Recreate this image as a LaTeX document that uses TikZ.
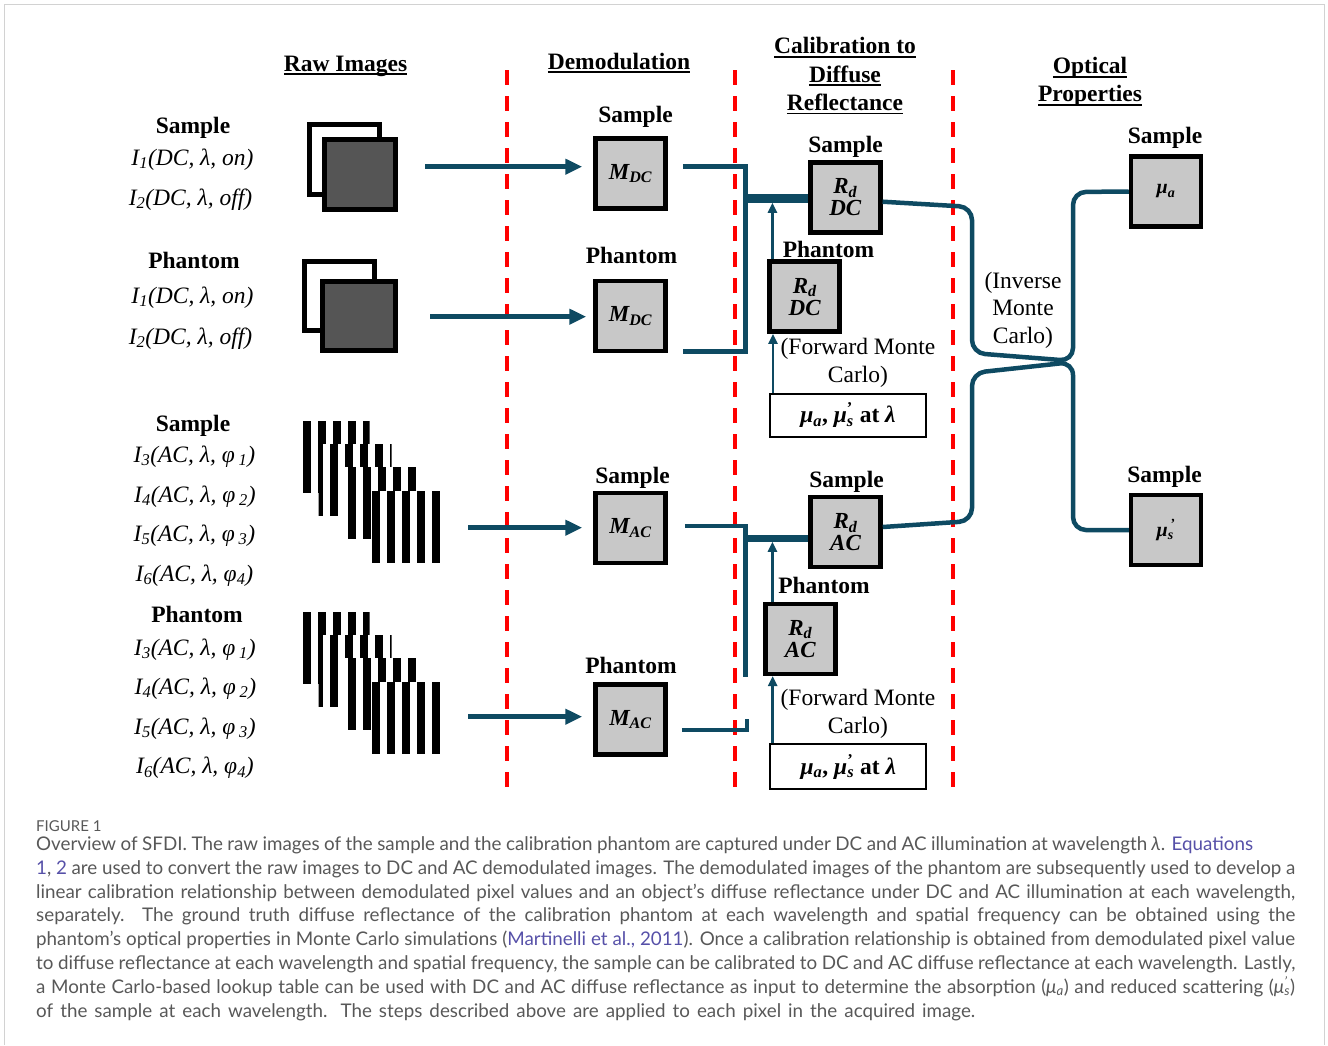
\documentclass[tikz,border=0pt]{standalone}
\usepackage{fontspec}
\setmainfont{Liberation Serif}
\newfontfamily\captionfont{Lato}
\usetikzlibrary{arrows.meta}

\definecolor{flowblue}{RGB}{14,74,98}
\definecolor{boxgray}{RGB}{200,200,200}
\definecolor{rawgray}{RGB}{85,85,85}
\definecolor{framegray}{RGB}{210,210,210}
\definecolor{captext}{RGB}{88,88,88}
\definecolor{caplink}{RGB}{86,80,168}

% underlined column heading
\newcommand{\ulhead}[1]{\leavevmode\setbox0=\hbox{#1}\rlap{\rule[-4pt]{\wd0}{1.8pt}}\box0}
% one fringe pattern: x, y, width, first bar x
\newcommand{\fringelayer}[4]{%
  \fill[white] (#1,#2) rectangle ++(#3,72);
  \begin{scope}
    \clip (#1,#2) rectangle ++(#3,72);
    \foreach \k in {0,...,6} {\fill[black] (#4+15*\k,#2) rectangle ++(8,72);}
  \end{scope}}

\tikzset{
  colhead/.style={font=\fontsize{23.5}{28.3}\selectfont\bfseries, align=center, inner sep=0pt},
  tag/.style={anchor=base, font=\fontsize{23.5}{28}\selectfont\bfseries, inner sep=0pt},
  rawlabel/.style={anchor=base, font=\fontsize{23.5}{28}\selectfont\itshape, inner sep=0pt},
  note/.style={font=\fontsize{23.5}{28}\selectfont, align=center, inner sep=0pt},
  imgbox/.style={draw=black, line width=4.5pt, fill=boxgray, minimum width=70pt, minimum height=70pt,
    inner sep=0pt, align=center, font=\fontsize{23}{22}\selectfont\bfseries\itshape},
  inbox/.style={draw=black, line width=2pt, fill=white, minimum width=156pt, minimum height=43.5pt,
    inner sep=0pt, font=\fontsize{23.5}{28}\selectfont\bfseries},
  flow/.style={draw=flowblue, line width=4.5pt},
  bus/.style={draw=flowblue, line width=9pt},
  feed/.style={draw=flowblue, line width=4.5pt, -{Triangle[length=17pt, width=15pt]}},
  lift/.style={draw=flowblue, line width=2.7pt, -{Triangle[length=10pt, width=9pt]}},
  stage/.style={draw=red, line width=4pt, dash pattern=on 15pt off 11pt},
  capline/.style={anchor=base west, inner sep=0pt, font=\captionfont\fontsize{18.8}{24}\selectfont, text=captext}
}

\begin{document}
\begin{tikzpicture}[x=1pt, y=-1pt]
  \useasboundingbox (0,0) rectangle (1328,1045);
  % Frame
  \draw[framegray, line width=1.5pt] (4.5,1045) -- (4.5,4.5) -- (1324.5,4.5) -- (1324.5,1045);

  % Column headings
  \node (hRaw) [colhead, anchor=base] at (345.5,71) {\ulhead{Raw Images}};
  \node (hDemod) [colhead, anchor=base] at (619,69) {\ulhead{Demodulation}};
  \node (hCalib) [colhead] at (845,76) {\ulhead{Calibration to}\\\ulhead{Diffuse}\\\ulhead{Reflectance}};
  \node (hOptic) [colhead] at (1090,82) {\ulhead{Optical}\\\ulhead{Properties}};

  % Stage separators
  \draw[stage] (507,70) -- (507,787);
  \draw[stage] (734.5,70) -- (734.5,787);
  \draw[stage] (953,70) -- (953,787);

  % Raw image labels
  \node (sDC) [tag] at (193,133) {Sample};
  \node (sDC1) [rawlabel] at (192.5,165) {I\textsubscript{1}(DC, λ, on)};
  \node (sDC2) [rawlabel] at (190.5,205) {I\textsubscript{2}(DC, λ, off)};
  \node (pDC) [tag] at (194,268) {Phantom};
  \node (pDC1) [rawlabel] at (192.5,303) {I\textsubscript{1}(DC, λ, on)};
  \node (pDC2) [rawlabel] at (190.5,344) {I\textsubscript{2}(DC, λ, off)};
  \node (sAC) [tag] at (193,431.5) {Sample};
  \node (sAC3) [rawlabel] at (194.5,462) {I\textsubscript{3}(AC, λ, φ\,\textsubscript{1})};
  \node (sAC4) [rawlabel] at (195,502) {I\textsubscript{4}(AC, λ, φ\,\textsubscript{2})};
  \node (sAC5) [rawlabel] at (194.5,541) {I\textsubscript{5}(AC, λ, φ\,\textsubscript{3})};
  \node (sAC6) [rawlabel] at (194.5,581) {I\textsubscript{6}(AC, λ, φ\textsubscript{4})};
  \node (pAC) [tag] at (197,622.5) {Phantom};
  \node (pAC3) [rawlabel] at (195,655) {I\textsubscript{3}(AC, λ, φ\,\textsubscript{1})};
  \node (pAC4) [rawlabel] at (195.5,694) {I\textsubscript{4}(AC, λ, φ\,\textsubscript{2})};
  \node (pAC5) [rawlabel] at (195,734) {I\textsubscript{5}(AC, λ, φ\,\textsubscript{3})};
  \node (pAC6) [rawlabel] at (195,773.5) {I\textsubscript{6}(AC, λ, φ\textsubscript{4})};

  % DC raw images
  \draw[line width=5pt, fill=white] (309.2,124.5) rectangle (379.2,194.2);
  \draw[line width=5pt, fill=rawgray] (324.2,139.5) rectangle (395.2,209.2);
  \draw[line width=5pt, fill=white] (304.2,261.5) rectangle (374.2,330.5);
  \draw[line width=5pt, fill=rawgray] (322.5,281.5) rectangle (395.2,350.8);

  % AC raw images (four phases each)
  \fringelayer{302.5}{421}{67}{302.5}
  \fringelayer{318.5}{444}{73}{314.5}
  \fringelayer{343}{467}{74}{348.3}
  \fringelayer{371.7}{491}{70}{371.7}
  \fringelayer{302.5}{612}{67}{302.5}
  \fringelayer{318.5}{635}{73}{314.5}
  \fringelayer{343}{658}{74}{348.3}
  \fringelayer{371.7}{682}{70}{371.7}

  % Demodulated images
  \node (mdcS) [imgbox] at (630.5,173.5) {M\textsubscript{DC}};
  \node (mdcP) [imgbox] at (630.5,316) {M\textsubscript{DC}};
  \node (macS) [imgbox] at (630.5,528) {M\textsubscript{AC}};
  \node (macP) [imgbox] at (630.5,719.5) {M\textsubscript{AC}};
  \node (tmdcS) [tag] at (635.5,122) {Sample};
  \node (tmdcP) [tag] at (631.5,263.5) {Phantom};
  \node (tmacS) [tag] at (632.5,483.5) {Sample};
  \node (tmacP) [tag] at (631,673.5) {Phantom};

  % Diffuse reflectance
  \node (rdcS) [imgbox] at (845.3,197.3) {R\textsubscript{d}\\DC};
  \node (rdcP) [imgbox] at (804.7,296.7) {R\textsubscript{d}\\DC};
  \node (rdaS) [imgbox] at (845.5,532) {R\textsubscript{d}\\AC};
  \node (rdaP) [imgbox] at (800.3,638.8) {R\textsubscript{d}\\AC};
  \node (trdcS) [tag] at (845.5,152) {Sample};
  \node (trdcP) [tag] at (828.5,257) {Phantom};
  \node (trdaS) [tag] at (846.5,487.5) {Sample};
  \node (trdaP) [tag] at (824,593.5) {Phantom};
  \node (inDC) [inbox] at (848,415.3) {\textit{μ}\textsubscript{\textit{a}}, \textit{μ}\rlap{\textsuperscript{’}}\textsubscript{\textit{s}} at \textit{λ}};
  \node (inAC) [inbox, minimum height=44.5pt] at (848.3,766.7) {\textit{μ}\textsubscript{\textit{a}}, \textit{μ}\rlap{\textsuperscript{’}}\textsubscript{\textit{s}} at \textit{λ}};
  \node (fwdDC) [note] at (858,363) {(Forward Monte\\Carlo)};
  \node (fwdAC) [note] at (858,714) {(Forward Monte\\Carlo)};

  % Optical properties
  \node (muA) [imgbox, font=\fontsize{20}{22}\selectfont\bfseries\itshape] at (1166,191.5) {μ\textsubscript{a}};
  \node (muS) [imgbox, font=\fontsize{20}{22}\selectfont\bfseries\itshape] at (1166,530) {μ\rlap{\textsubscript{s}}\textsuperscript{\,’}};
  \node (tmuA) [tag] at (1165,143.5) {Sample};
  \node (tmuS) [tag] at (1164.5,482) {Sample};
  \node (inv) [note, font=\fontsize{23.5}{27.5}\selectfont] at (1023,310) {(Inverse\\Monte\\Carlo)};

  % Raw images to demodulation
  \coordinate (rawDCs) at (425,166.7);
  \coordinate (rawDCp) at (430,316.7);
  \coordinate (rawACs) at (468,527.7);
  \coordinate (rawACp) at (468,716.7);
  \draw[feed, shorten >=11pt] (rawDCs) -- (rawDCs -| mdcS.west);
  \draw[feed, shorten >=7pt] (rawDCp) -- (rawDCp -| mdcP.west);
  \draw[feed, shorten >=11pt] (rawACs) -- (rawACs -| macS.west);
  \draw[feed, shorten >=11pt] (rawACp) -- (rawACp -| macP.west);

  % DC demodulation to calibration
  \coordinate (dcTop) at (745.5,166.7);
  \coordinate (dcBot) at (745.5,351.7);
  \coordinate (dcBus) at (745.5,198.3);
  \draw[flow] ([xshift=15pt]mdcS.east |- dcTop) -- (dcTop) -- (dcBot) -- ([xshift=15pt]mdcP.east |- dcBot);
  \draw[bus] (dcBus) -- (dcBus -| rdcS.west);
  \draw[lift, shorten >=4.5pt] ([xshift=5pt]rdcP.north west) -- ([xshift=5pt]rdcP.north west |- dcBus);
  \draw[lift] ([xshift=4pt]inDC.north west) -- ([xshift=4pt]inDC.north west |- rdcP.south);

  % AC demodulation to calibration
  \coordinate (acTop) at (745.5,526);
  \coordinate (acEnd) at (745.5,677);
  \coordinate (acBus) at (745.5,538.3);
  \coordinate (acLow) at (747,730);
  \draw[flow] ([xshift=17pt]macS.east |- acTop) -- (acTop) -- (acEnd);
  \draw[flow] ([xshift=14pt]macP.east |- acLow) -- (acLow) -- ++(0,-11);
  \draw[bus, line width=7pt] (acBus) -- (acBus -| rdaS.west);
  \draw[lift, shorten >=3.5pt] ([xshift=9.4pt]rdaP.north west) -- ([xshift=9.4pt]rdaP.north west |- acBus);
  \draw[lift] ([xshift=3.4pt]inAC.north west) -- ([xshift=3.4pt]inAC.north west |- rdaP.south);

  % Inverse Monte Carlo
  \draw[flow, rounded corners=13pt] ([yshift=-4.4pt]rdcS.east) -- (972,207) -- (972,353) -- (1073,361) -- (1073,192) -- (muA.west);
  \draw[flow, rounded corners=13pt] ([yshift=5pt]rdaS.east) -- (972,521) -- (972,373) -- (1073,362) -- (1073,530) -- (muS.west);

  % Caption
  \node (figno) [anchor=base west, inner sep=0pt, font=\captionfont\fontsize{15}{18}\selectfont, text=captext] at (36,831) {FIGURE 1};
  \node (cap1) [capline] at (36,850) {\makebox[1217pt][s]{Overview of SFDI. The raw images of the sample and the calibration phantom are captured under DC and AC illumination at wavelength \textit{λ}. \textcolor{caplink}{Equations}}};
  \node (cap2) [capline] at (36,874) {\makebox[1259pt][s]{\textcolor{caplink}{1}, \textcolor{caplink}{2} are used to convert the raw images to DC and AC demodulated images. The demodulated images of the phantom are subsequently used to develop a}};
  \node (cap3) [capline] at (36,898) {\makebox[1259pt][s]{linear calibration relationship between demodulated pixel values and an object’s diffuse reflectance under DC and AC illumination at each wavelength,}};
  \node (cap4) [capline] at (36,921.5) {\makebox[1259pt][s]{separately. The ground truth diffuse reflectance of the calibration phantom at each wavelength and spatial frequency can be obtained using the}};
  \node (cap5) [capline] at (36,945.5) {\makebox[1259pt][s]{phantom’s optical properties in Monte Carlo simulations (\textcolor{caplink}{Martinelli et al., 2011}). Once a calibration relationship is obtained from demodulated pixel value}};
  \node (cap6) [capline] at (36,969.5) {\makebox[1259pt][s]{to diffuse reflectance at each wavelength and spatial frequency, the sample can be calibrated to DC and AC diffuse reflectance at each wavelength. Lastly,}};
  \node (cap7) [capline] at (36,993) {\makebox[1259pt][s]{a Monte Carlo-based lookup table can be used with DC and AC diffuse reflectance as input to determine the absorption (\textit{μ}\textsubscript{\textit{a}}) and reduced scattering (\textit{μ}\rlap{\textsuperscript{\textit{’}}}\textsubscript{\textit{s}})}};
  \node (cap8) [capline] at (36,1017) {\makebox[939pt][s]{of the sample at each wavelength. The steps described above are applied to each pixel in the acquired image.}};
\end{tikzpicture}
\end{document}
